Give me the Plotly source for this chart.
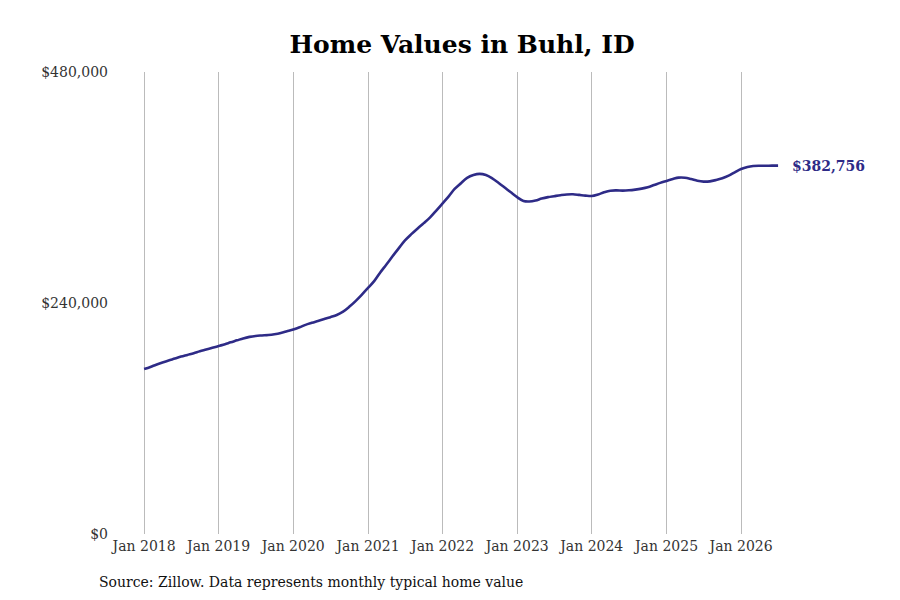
import pandas as pd
import plotly.graph_objects as go

# monthly typical home value, Jan 2018 .. Jul 2026
months = pd.date_range("2018-01-01", "2026-07-01", freq="MS")
values = [
    171400, 173600, 175900, 178200, 180300, 182300, 184300, 186100, 187900, 189800, 191600, 193400,
    195300, 197200, 199200, 201200, 203200, 204800, 205800, 206300, 206700, 207500, 208800, 210600,
    212500, 214800, 217300, 219400, 221300, 223300, 225300, 227500, 231000, 236000, 242000, 248500,
    255600, 263000, 271500, 280000, 288500, 297000, 305000, 311500, 317500, 323000, 329000, 336000,
    343500, 351000, 358500, 364500, 370000, 373000, 374200, 373000, 369500, 365000, 360000, 355000,
    350000, 346000, 345500, 346500, 348500, 350000, 351000, 352000, 352800, 353000, 352300, 351600,
    351200, 352800, 355000, 356700, 357000, 356800, 357100, 357800, 358800, 360200, 362500, 364800,
    366800, 368800, 370300, 370200, 368800, 367000, 366100, 366400, 367800, 369600, 372300, 375800,
    379200, 381300, 382300, 382600, 382600, 382700, 382756,
]

tick_dates = pd.date_range("2018-01-01", "2026-01-01", freq="YS")
tick_text = [d.strftime("Jan %Y") for d in tick_dates]
y_ticks = [0, 240000, 480000]
y_text = ["$0", "$240,000", "$480,000"]

line_color = "#2e2b87"
font = "DejaVu Serif"

fig = go.Figure()
fig.add_trace(go.Scatter(
    x=months,
    y=values,
    mode="lines",
    line=dict(color=line_color, width=2.6, shape="spline"),
    hoverinfo="skip",
))

fig.add_annotation(
    x=months[-1], y=values[-1],
    text=f"<b>${values[-1]:,}</b>",
    showarrow=False,
    xanchor="left", xshift=12,
    font=dict(family=font, size=14, color=line_color),
)

# source note, placed in paper units just below the axis labels
fig.add_annotation(
    x=-0.021, y=-0.104, xref="paper", yref="paper",
    xanchor="left", yanchor="middle",
    text="Source: Zillow. Data represents monthly typical home value",
    showarrow=False,
    font=dict(family=font, size=14, color="#111"),
)

# page body adds an 8px offset, so margins are shifted to compensate
fig.update_layout(
    width=900, height=600,
    margin=dict(l=104, r=96, t=64, b=74),
    paper_bgcolor="white",
    plot_bgcolor="white",
    showlegend=False,
    title=dict(
        text="<b>Home Values in Buhl, ID</b>",
        x=0.5, xanchor="center", xref="paper",
        y=0.94, yanchor="middle",
        font=dict(family=font, size=25, color="black"),
    ),
    font=dict(family=font, size=14, color="#333"),
)

fig.update_xaxes(
    range=["2017-07-28", "2026-12-14"],
    tickvals=tick_dates,
    ticktext=tick_text,
    showgrid=True, gridcolor="#bbbbbb", gridwidth=1,
    zeroline=False, showline=False,
    ticks="", ticklabelstandoff=2,
)
fig.update_yaxes(
    range=[0, 480000],
    tickvals=y_ticks,
    ticktext=y_text,
    showgrid=False, zeroline=False, showline=False,
    ticks="", ticklabelstandoff=3,
)

fig.write_html("out.html")
